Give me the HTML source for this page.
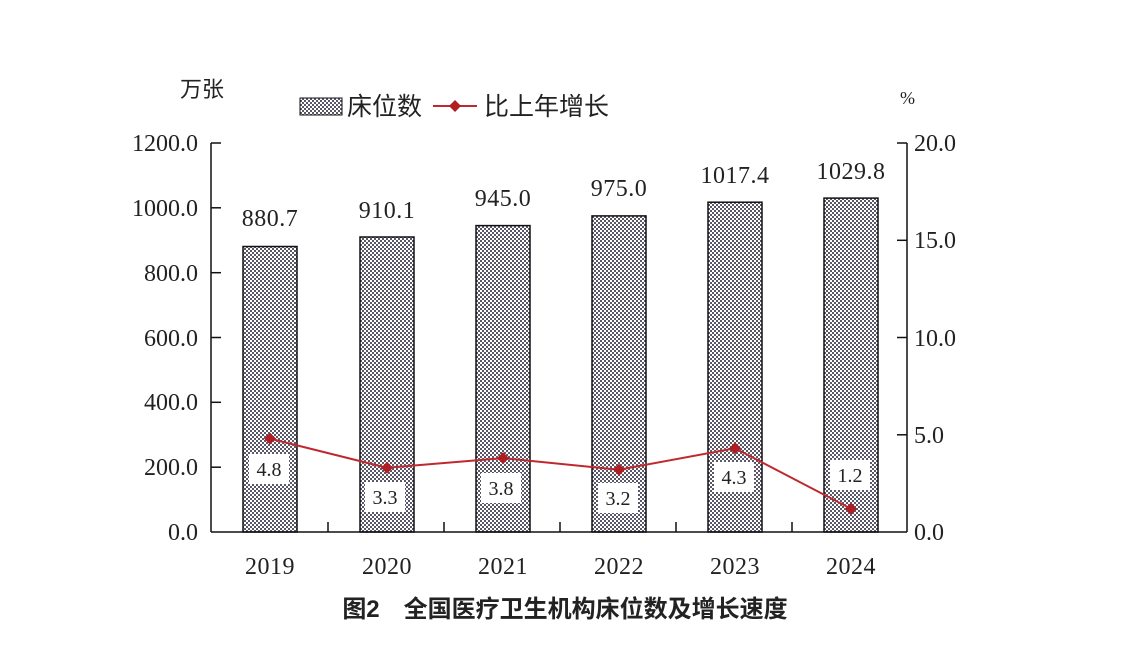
<!DOCTYPE html>
<html><head><meta charset="utf-8"><style>
body{margin:0;background:#fff;}
text{font-family:"Liberation Serif","Noto Serif CJK SC",serif;fill:#222;}
.cn{font-family:"Liberation Sans","Noto Sans CJK SC",sans-serif;}
</style></head><body>
<svg width="1125" height="656" xmlns="http://www.w3.org/2000/svg">
<defs>
<pattern id="ck" width="4" height="4" patternUnits="userSpaceOnUse">
<rect width="4" height="4" fill="#fff"/>
<rect width="2" height="2" fill="#5a5868"/>
<rect x="2" y="2" width="2" height="2" fill="#5a5868"/>
</pattern>
</defs>
<rect width="1125" height="656" fill="#fff"/>
<g stroke="#111" stroke-width="1.5" fill="url(#ck)">
<rect x="243" y="246.5" width="54" height="285.5"/>
<rect x="360" y="237" width="54" height="295"/>
<rect x="476" y="225.6" width="54" height="306.4"/>
<rect x="592" y="215.9" width="54" height="316.1"/>
<rect x="708" y="202.2" width="54" height="329.8"/>
<rect x="824" y="198.1" width="54" height="333.9"/>
</g>
<g stroke="#111" stroke-width="1.5">
<line x1="211" y1="143" x2="211" y2="532"/>
<line x1="907" y1="143" x2="907" y2="532"/>
<line x1="211" y1="532" x2="907" y2="532"/>
<line x1="211" y1="143" x2="221" y2="143"/><line x1="211" y1="207.8" x2="221" y2="207.8"/>
<line x1="211" y1="272.7" x2="221" y2="272.7"/><line x1="211" y1="337.5" x2="221" y2="337.5"/>
<line x1="211" y1="402.3" x2="221" y2="402.3"/><line x1="211" y1="467.2" x2="221" y2="467.2"/>
<line x1="897" y1="143" x2="907" y2="143"/><line x1="897" y1="240.3" x2="907" y2="240.3"/>
<line x1="897" y1="337.5" x2="907" y2="337.5"/><line x1="897" y1="434.8" x2="907" y2="434.8"/>
<line x1="328" y1="522" x2="328" y2="532"/><line x1="444" y1="522" x2="444" y2="532"/>
<line x1="560" y1="522" x2="560" y2="532"/><line x1="676" y1="522" x2="676" y2="532"/>
<line x1="792" y1="522" x2="792" y2="532"/>
</g>
<g font-size="24" text-anchor="end">
<text x="198" y="151">1200.0</text><text x="198" y="216">1000.0</text>
<text x="198" y="281">800.0</text><text x="198" y="346">600.0</text>
<text x="198" y="410">400.0</text><text x="198" y="475">200.0</text>
<text x="198" y="540">0.0</text>
</g>
<g font-size="24">
<text x="914" y="151">20.0</text><text x="914" y="248">15.0</text>
<text x="914" y="346">10.0</text><text x="914" y="443">5.0</text>
<text x="914" y="540">0.0</text>
</g>
<g font-size="24" text-anchor="middle" letter-spacing="0.5">
<text x="270" y="574">2019</text><text x="387" y="574">2020</text><text x="503" y="574">2021</text>
<text x="619" y="574">2022</text><text x="735" y="574">2023</text><text x="851" y="574">2024</text>
<text x="270" y="226">880.7</text><text x="387" y="218">910.1</text><text x="503" y="206">945.0</text>
<text x="619" y="196">975.0</text><text x="735" y="183">1017.4</text><text x="851" y="179">1029.8</text>
</g>
<polyline points="270,438.6 387,467.8 503,458.1 619,469.7 735,448.3 851,508.7" fill="none" stroke="#c0282d" stroke-width="2"/>
<g fill="#b01e24">
<path d="M270 432.6l6 6-6 6-6-6z"/><path d="M387 461.8l6 6-6 6-6-6z"/><path d="M503 452.1l6 6-6 6-6-6z"/>
<path d="M619 463.7l6 6-6 6-6-6z"/><path d="M735 442.3l6 6-6 6-6-6z"/><path d="M851 502.7l6 6-6 6-6-6z"/>
</g>
<g fill="#fff">
<rect x="249" y="454" width="40" height="30"/><rect x="365" y="482" width="40" height="30"/>
<rect x="481" y="473" width="40" height="30"/><rect x="598" y="483" width="40" height="30"/>
<rect x="714" y="462" width="40" height="30"/><rect x="830" y="460" width="40" height="30"/>
</g>
<g font-size="20" text-anchor="middle">
<text x="269" y="476">4.8</text><text x="385" y="504">3.3</text><text x="501" y="495">3.8</text>
<text x="618" y="505">3.2</text><text x="734" y="484">4.3</text><text x="850" y="482">1.2</text>
</g>
<text class="cn" x="180" y="97" font-size="22">万张</text>
<text x="900" y="104" font-size="18">%</text>
<rect x="300" y="98" width="42" height="17" fill="url(#ck)" stroke="#111" stroke-width="1"/>
<text class="cn" x="347" y="115" font-size="25">床位数</text>
<line x1="433" y1="106" x2="477" y2="106" stroke="#c0282d" stroke-width="2"/>
<path d="M455 100l6 6-6 6-6-6z" fill="#b01e24"/>
<text class="cn" x="484" y="115" font-size="25">比上年增长</text>
<text class="cn" x="565" y="617" font-size="24" font-weight="bold" text-anchor="middle">图2　全国医疗卫生机构床位数及增长速度</text>
</svg>
</body></html>
